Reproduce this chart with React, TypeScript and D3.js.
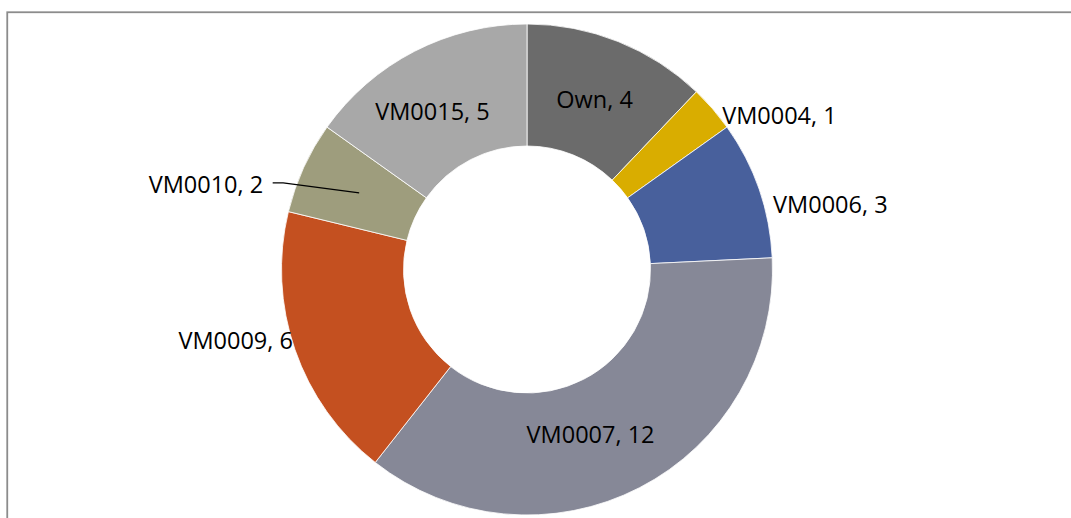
import React, { useEffect, useRef } from 'react';
import * as d3 from 'd3';

const categories = ['Own', 'VM0004', 'VM0006', 'VM0007', 'VM0009', 'VM0010', 'VM0015'];
const values = [4, 1, 3, 12, 6, 2, 5];
const colors = ['#6b6b6b', '#d9ad00', '#48609c', '#868897', '#c45020', '#9e9d7d', '#a8a8a8'];

// label placement relative to each slice centroid (Excel "best fit" look)
const labelOffsets: [number, number][] = [
  [-1, 10],
  [113, -25],
  [129, 4],
  [-21, 10],
  [-117, 19],
  [-96, 0],
  [-10, 14],
];
const labelAnchors = ['middle', 'middle', 'middle', 'middle', 'middle', 'end', 'middle'];

export default function App() {
  const svgRef = useRef<SVGSVGElement>(null);

  useEffect(() => {
    if (!svgRef.current) return;
    const svg = d3.select(svgRef.current);
    svg.selectAll('*').remove();

    const width = 1071;
    const height = 518;
    const cx = 527;
    const cy = 269.5;
    const outer = 245.5;
    const inner = 123.5;

    svg.append('rect')
      .attr('x', 7.25)
      .attr('y', 12.25)
      .attr('width', width + 20)
      .attr('height', height + 20)
      .attr('fill', 'none')
      .attr('stroke', '#8c8c8c')
      .attr('stroke-width', 1.8);

    const data = categories.map((c, i) => ({ name: c, value: values[i], i }));
    const pie = d3.pie<typeof data[0]>().value(d => d.value).sort(null);
    const arc = d3.arc<d3.PieArcDatum<typeof data[0]>>().innerRadius(inner).outerRadius(outer);
    const arcs = pie(data);

    const g = svg.append('g').attr('transform', `translate(${cx},${cy})`);

    g.selectAll('path.slice')
      .data(arcs)
      .enter()
      .append('path')
      .attr('class', 'slice')
      .attr('d', arc)
      .attr('fill', d => colors[d.data.i])
      .attr('stroke', '#ffffff')
      .attr('stroke-width', 0.8);

    // leader line for VM0010
    const li = categories.indexOf('VM0010');
    const [lx, ly] = arc.centroid(arcs[li]);
    const lp = d3.path();
    lp.moveTo(lx, ly);
    lp.lineTo(lx - 76, ly - 10);
    lp.lineTo(lx - 86.5, ly - 10);
    g.append('path')
      .attr('d', lp.toString())
      .attr('fill', 'none')
      .attr('stroke', '#000')
      .attr('stroke-width', 1.3);

    g.selectAll('text.lbl')
      .data(arcs)
      .enter()
      .append('text')
      .attr('class', 'lbl')
      .attr('x', d => arc.centroid(d)[0] + labelOffsets[d.data.i][0])
      .attr('y', d => arc.centroid(d)[1] + labelOffsets[d.data.i][1])
      .attr('text-anchor', d => labelAnchors[d.data.i])
      .attr('font-family', '"Open Sans", sans-serif')
      .attr('font-size', 23.5)
      .attr('fill', '#000')
      .text(d => `${d.data.name}, ${d.data.value}`);
  }, []);

  return (
    <svg
      ref={svgRef}
      width={1071}
      height={518}
      style={{ position: 'absolute', left: 0, top: 0, background: '#fff' }}
    />
  );
}
